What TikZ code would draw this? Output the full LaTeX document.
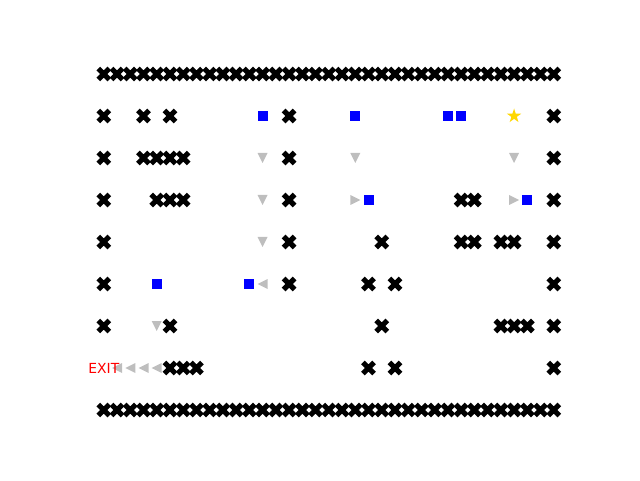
\documentclass[tikz,border=0pt]{standalone}
\usepackage{fontspec}
\setmainfont{DejaVu Sans}
\usetikzlibrary{shapes.geometric}
\definecolor{markgray}{RGB}{190,190,190}
\definecolor{boxblue}{RGB}{0,0,255}
\definecolor{goldstar}{RGB}{255,215,0}
\definecolor{exitred}{RGB}{255,0,0}
\tikzset{
  wallx/.pic={\fill[black,rotate=45] (-2.6pt,-7.8pt) -- (2.6pt,-7.8pt) -- (2.6pt,-2.6pt) -- (7.8pt,-2.6pt) -- (7.8pt,2.6pt) -- (2.6pt,2.6pt) -- (2.6pt,7.8pt) -- (-2.6pt,7.8pt) -- (-2.6pt,2.6pt) -- (-7.8pt,2.6pt) -- (-7.8pt,-2.6pt) -- (-2.6pt,-2.6pt) -- cycle;},
  boxmark/.pic={\fill[boxblue] (-5pt,-5pt) rectangle (5pt,5pt);},
  downtri/.pic={\fill[markgray] (0pt,-5pt) -- (-5pt,5pt) -- (5pt,5pt) -- cycle;},
  righttri/.pic={\fill[markgray] (5pt,0pt) -- (-5pt,5pt) -- (-5pt,-5pt) -- cycle;},
  lefttri/.pic={\fill[markgray] (-5pt,0pt) -- (5pt,5pt) -- (5pt,-5pt) -- cycle;},
  goalstar/.style={star, star points=5, star point ratio=2.618, fill=goldstar, draw=none, minimum size=15pt, inner sep=0pt},
  exitlabel/.style={text=exitred, font=\fontsize{13.9}{16}\selectfont, inner sep=0pt}
}
\begin{document}
\begin{tikzpicture}[x=1pt,y=1pt]
\useasboundingbox (0,0) rectangle (640,480);
\begin{scope}[shift={(103.8pt,406pt)}, x=13.235pt, y=-42pt]
  % outer walls
  \foreach \c in {0,...,34} {
    \pic at (\c,0) {wallx};
    \pic at (\c,8) {wallx};
  }
  % inner walls
  \foreach \c/\r in {0/1,3/1,5/1,14/1,34/1,
                     0/2,3/2,4/2,5/2,6/2,14/2,34/2,
                     0/3,4/3,5/3,6/3,14/3,27/3,28/3,34/3,
                     0/4,14/4,21/4,27/4,28/4,30/4,31/4,34/4,
                     0/5,14/5,20/5,22/5,34/5,
                     0/6,5/6,21/6,30/6,31/6,32/6,34/6,
                     5/7,6/7,7/7,20/7,22/7,34/7}
    \pic at (\c,\r) {wallx};
  % boxes
  \foreach \c/\r in {12/1,19/1,26/1,27/1,20/3,32/3,4/5,11/5}
    \pic at (\c,\r) {boxmark};
  % moves
  \foreach \c/\r in {12/2,19/2,31/2,12/3,12/4,4/6}
    \pic at (\c,\r) {downtri};
  \foreach \c/\r in {19/3,31/3}
    \pic at (\c,\r) {righttri};
  \foreach \c/\r in {12/5,1/7,2/7,3/7,4/7}
    \pic at (\c,\r) {lefttri};
  % goal
  \node[goalstar] (goal) at (31,1) {};
  % exit
  \node[exitlabel] (exit) at (0,7) {EXIT};
\end{scope}
\end{tikzpicture}
\end{document}
